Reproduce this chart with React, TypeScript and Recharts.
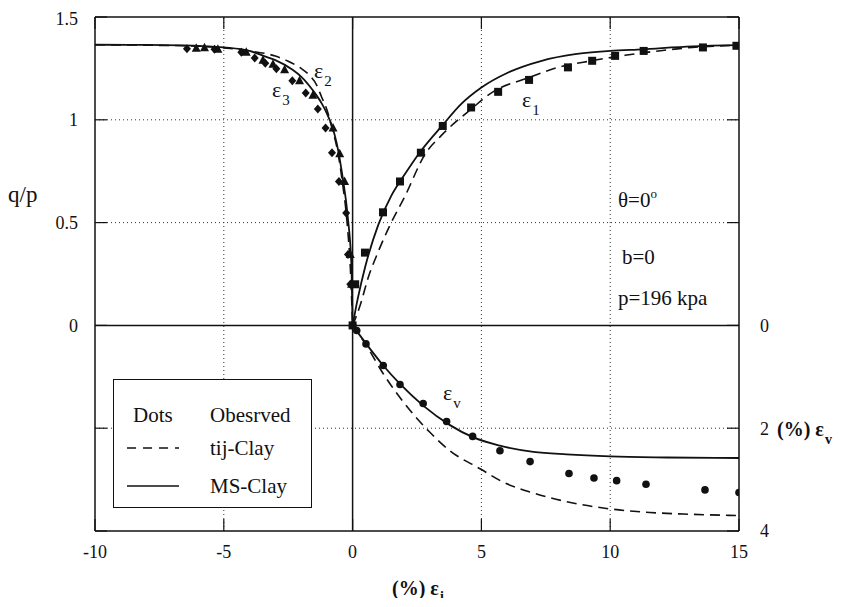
import React from 'react';
import { ComposedChart, XAxis, YAxis, Line, Scatter, ReferenceLine } from 'recharts';

// observed points, strain in %, stress ratio q/p
const e1ObsX = [0, 0.1, 0.48, 1.18, 1.84, 2.65, 3.5, 4.6, 5.65, 6.85, 8.36, 9.3, 10.19, 11.3, 13.6, 14.9];
const e1ObsY = [0, 0.2, 0.354, 0.55, 0.7, 0.84, 0.97, 1.06, 1.136, 1.194, 1.255, 1.287, 1.311, 1.335, 1.352, 1.36];

const e2ObsX = [-6.07, -5.75, -5.23, -4.13, -3.48, -3.09, -2.64, -2.06, -1.54, -0.76, -0.5, -0.31, -0.09, -0.04];
const e2ObsY = [1.348, 1.351, 1.343, 1.329, 1.29, 1.27, 1.243, 1.19, 1.12, 0.96, 0.835, 0.7, 0.345, 0.2];

const e3ObsX = [-6.43, -5.36, -4.32, -3.8, -3.39, -2.96, -2.34, -1.82, -1.35, -1.05, -0.8, -0.53, -0.25, -0.18, -0.09, 0];
const e3ObsY = [1.345, 1.343, 1.329, 1.3, 1.275, 1.248, 1.19, 1.13, 1.053, 0.96, 0.84, 0.7, 0.547, 0.345, 0.2, 0];

// volumetric strain (%), right axis
const evObsX = [0, 0.16, 0.52, 1.19, 1.84, 2.74, 3.65, 4.66, 5.72, 6.89, 8.4, 9.37, 10.25, 11.39, 13.68, 15.0];
const evObsV = [0, 0.1, 0.36, 0.78, 1.15, 1.52, 1.87, 2.16, 2.44, 2.65, 2.88, 2.97, 3.02, 3.09, 3.2, 3.25];

// MS-Clay (solid)
const msLatX = [-10, -8, -6, -5, -4, -3.35, -3, -2.33, -2, -1.56, -1.2, -1.01, -0.8, -0.62, -0.39, -0.19, -0.04, 0];
const msLatY = [1.365, 1.364, 1.36, 1.352, 1.335, 1.306, 1.29, 1.243, 1.21, 1.146, 1.08, 1.034, 0.97, 0.888, 0.723, 0.53, 0.272, 0];
const msE1X = [0, 0.2, 0.5, 1, 1.5, 2, 2.6, 3.5, 4.2, 5.0, 6.04, 7.34, 8.64, 10, 11.24, 13.19, 15];
const msE1Y = [0, 0.13, 0.29, 0.49, 0.63, 0.73, 0.84, 0.975, 1.075, 1.157, 1.23, 1.287, 1.319, 1.335, 1.343, 1.357, 1.363];
const msEvX = [0, 0.5, 1.19, 1.84, 2.74, 3.78, 4.69, 5.72, 7.02, 8.31, 9.99, 12.19, 15];
const msEvV = [0, 0.34, 0.78, 1.14, 1.56, 1.94, 2.18, 2.34, 2.46, 2.51, 2.55, 2.57, 2.58];

// tij-Clay (dashed)
const tjLatX = [-10, -8, -6, -5, -4, -3, -2.5, -2, -1.7, -1.4, -1.2, -1, -0.8, -0.6, -0.4, -0.2, -0.08, 0];
const tjLatY = [1.365, 1.363, 1.358, 1.35, 1.335, 1.31, 1.285, 1.25, 1.22, 1.17, 1.11, 1.05, 0.96, 0.86, 0.7, 0.48, 0.26, 0];
const tjE1X = [0, 0.3, 0.6, 1, 1.5, 2, 2.85, 3.43, 4.6, 5.51, 6.68, 7.98, 9.28, 10.58, 11.88, 13.19, 15];
const tjE1Y = [0, 0.1, 0.23, 0.36, 0.5, 0.62, 0.84, 0.922, 1.052, 1.141, 1.198, 1.255, 1.287, 1.314, 1.335, 1.352, 1.363];
const tjEvX = [0, 0.5, 1.19, 1.97, 3.0, 3.78, 4.95, 5.85, 7.02, 8.31, 9.99, 11.54, 12.84, 15];
const tjEvV = [0, 0.36, 0.94, 1.49, 2.08, 2.44, 2.79, 3.05, 3.26, 3.43, 3.57, 3.64, 3.67, 3.7];

const xTicks = [-10, -5, 0, 5, 10, 15];
const leftTicks = [-1, -0.5, 0, 0.5, 1, 1.5];
const rightTicks = [-6, -4, -2, 0, 2, 4];

const pts = (xs: number[], ys: number[]) => xs.map((x, i) => ({ x, y: ys[i] }));

const INK = '#111';
const SERIF = '"Liberation Serif", "DejaVu Serif", serif';

const Square = (p: any) => <rect x={p.cx - 4} y={p.cy - 4} width={8} height={8} fill={INK} />;
const Diamond = (p: any) => (
  <path d={`M${p.cx},${p.cy - 4.5}L${p.cx + 4},${p.cy}L${p.cx},${p.cy + 4.5}L${p.cx - 4},${p.cy}Z`} fill={INK} />
);
const Triangle = (p: any) => (
  <path d={`M${p.cx},${p.cy - 5}L${p.cx + 4.5},${p.cy + 3.5}L${p.cx - 4.5},${p.cy + 3.5}Z`} fill={INK} />
);
const Dot = (p: any) => <circle cx={p.cx} cy={p.cy} r={3.8} fill={INK} />;

const tickStyle = { fill: INK, fontSize: 18, fontFamily: SERIF };

function Txt({ x, y, size = 21, bold = false, children }: any) {
  return (
    <div
      style={{
        position: 'absolute',
        left: x,
        top: y - size * 0.5,
        fontSize: size,
        lineHeight: 1,
        fontFamily: SERIF,
        fontWeight: bold ? 'bold' : 'normal',
        whiteSpace: 'nowrap',
        color: INK,
      }}
    >
      {children}
    </div>
  );
}

const Sub = ({ children, drop = 8, size = 15 }: any) => (
  <span style={{ fontSize: size, position: 'relative', top: drop, marginLeft: 1 }}>{children}</span>
);

// a strain label, x/y = left edge and middle of the epsilon
function Eps({ x, y, sub }: any) {
  return (
    <div
      style={{ position: 'absolute', left: x, top: y - 13, fontSize: 22, lineHeight: 1, fontFamily: SERIF, color: INK, whiteSpace: 'nowrap' }}
    >
      ε<Sub>{sub}</Sub>
    </div>
  );
}

export default function App() {
  return (
    <div style={{ position: 'relative', width: 825, height: 590, fontFamily: SERIF, background: '#fff' }}>
      <ComposedChart width={825} height={590} margin={{ top: 4, right: 44, bottom: 27, left: 37 }}>
        <XAxis
          xAxisId="b"
          type="number"
          dataKey="x"
          domain={[-10, 15]}
          ticks={xTicks}
          allowDataOverflow
          height={40}
          tickSize={-12}
          tickMargin={26}
          tick={tickStyle}
          axisLine={{ stroke: INK, strokeWidth: 1.5 }}
          tickLine={{ stroke: INK, strokeWidth: 1.2 }}
        />
        <XAxis
          xAxisId="t"
          orientation="top"
          type="number"
          dataKey="x"
          domain={[-10, 15]}
          ticks={xTicks}
          allowDataOverflow
          height={5}
          tickSize={-12}
          tickFormatter={() => ''}
          axisLine={{ stroke: INK, strokeWidth: 1.5 }}
          tickLine={{ stroke: INK, strokeWidth: 1.2 }}
        />
        <YAxis
          yAxisId="l"
          type="number"
          dataKey="y"
          domain={[-1, 1.5]}
          ticks={leftTicks}
          allowDataOverflow
          width={50}
          tickSize={-12}
          tickMargin={29}
          tick={tickStyle}
          tickFormatter={(v: number) => (v >= 0 ? String(v) : '')}
          axisLine={{ stroke: INK, strokeWidth: 1.5 }}
          tickLine={{ stroke: INK, strokeWidth: 1.2 }}
        />
        <YAxis
          yAxisId="r"
          orientation="right"
          type="number"
          dataKey="y"
          domain={[-6, 4]}
          reversed
          ticks={rightTicks}
          allowDataOverflow
          width={50}
          tickSize={-12}
          tickMargin={33}
          tick={tickStyle}
          tickFormatter={(v: number) => (v >= 0 ? String(v) : '')}
          axisLine={{ stroke: INK, strokeWidth: 1.5 }}
          tickLine={{ stroke: INK, strokeWidth: 1.2 }}
        />

        {[-5, 5, 10].map((v) => (
          <ReferenceLine key={'gx' + v} xAxisId="b" yAxisId="l" x={v} stroke="#333" strokeDasharray="1 3" />
        ))}
        {[1, 0.5, -0.5].map((v) => (
          <ReferenceLine key={'gy' + v} xAxisId="b" yAxisId="l" y={v} stroke="#333" strokeDasharray="1 3" />
        ))}
        <ReferenceLine xAxisId="b" yAxisId="l" x={0} stroke={INK} strokeWidth={1.5} />
        <ReferenceLine xAxisId="b" yAxisId="l" y={0} stroke={INK} strokeWidth={1.5} />

        <Line xAxisId="b" yAxisId="l" data={pts(msLatX, msLatY)} dataKey="y" type="monotone" stroke={INK} strokeWidth={1.8} dot={false} activeDot={false} isAnimationActive={false} />
        <Line xAxisId="b" yAxisId="l" data={pts(tjLatX, tjLatY)} dataKey="y" type="monotone" stroke={INK} strokeWidth={1.6} strokeDasharray="10 6" dot={false} activeDot={false} isAnimationActive={false} />
        <Line xAxisId="b" yAxisId="l" data={pts(msE1X, msE1Y)} dataKey="y" type="monotone" stroke={INK} strokeWidth={1.8} dot={false} activeDot={false} isAnimationActive={false} />
        <Line xAxisId="b" yAxisId="l" data={pts(tjE1X, tjE1Y)} dataKey="y" type="monotone" stroke={INK} strokeWidth={1.6} strokeDasharray="10 6" dot={false} activeDot={false} isAnimationActive={false} />
        <Line xAxisId="b" yAxisId="r" data={pts(msEvX, msEvV)} dataKey="y" type="monotone" stroke={INK} strokeWidth={1.8} dot={false} activeDot={false} isAnimationActive={false} />
        <Line xAxisId="b" yAxisId="r" data={pts(tjEvX, tjEvV)} dataKey="y" type="monotone" stroke={INK} strokeWidth={1.6} strokeDasharray="10 6" dot={false} activeDot={false} isAnimationActive={false} />

        <Scatter xAxisId="b" yAxisId="l" data={pts(e1ObsX, e1ObsY)} shape={Square} isAnimationActive={false} />
        <Scatter xAxisId="b" yAxisId="l" data={pts(e3ObsX, e3ObsY)} shape={Diamond} isAnimationActive={false} />
        <Scatter xAxisId="b" yAxisId="l" data={pts(e2ObsX, e2ObsY)} shape={Triangle} isAnimationActive={false} />
        <Scatter xAxisId="b" yAxisId="r" data={pts(evObsX, evObsV)} shape={Dot} isAnimationActive={false} />
      </ComposedChart>

      {/* axis titles */}
      <Txt x={0} y={186} size={23}>q/p</Txt>
      <Txt x={384} y={580} size={20} bold>
        (%) ε<Sub drop={6} size={14}>i</Sub>
      </Txt>
      <Txt x={769} y={421} size={20} bold>
        (%) ε<Sub drop={8} size={14}>v</Sub>
      </Txt>

      {/* curve labels */}
      <Eps x={514} y={94} sub="1" />
      <Eps x={306} y={65} sub="2" />
      <Eps x={264} y={84} sub="3" />
      <Eps x={435} y={387} sub="v" />

      {/* test conditions */}
      <Txt x={610} y={192}>
        θ=0<span style={{ fontSize: 13, position: 'relative', top: -9 }}>o</span>
      </Txt>
      <Txt x={614} y={249}>b=0</Txt>
      <Txt x={610} y={290}>p=196 kpa</Txt>

      {/* legend box */}
      <div
        style={{
          position: 'absolute',
          left: 105,
          top: 371,
          width: 199,
          height: 129,
          boxSizing: 'border-box',
          border: `1.5px solid ${INK}`,
          background: '#fff',
        }}
      >
        <Txt x={19} y={35}>Dots</Txt>
        <Txt x={96} y={35}>Obesrved</Txt>
        <svg style={{ position: 'absolute', left: 13, top: 60 }} width={52} height={60}>
          <line x1={0} y1={8} x2={52} y2={8} stroke={INK} strokeWidth={1.4} strokeDasharray="9 7" />
          <line x1={0} y1={46} x2={52} y2={46} stroke={INK} strokeWidth={1.4} />
        </svg>
        <Txt x={96} y={68}>tij-Clay</Txt>
        <Txt x={96} y={106}>MS-Clay</Txt>
      </div>
    </div>
  );
}
